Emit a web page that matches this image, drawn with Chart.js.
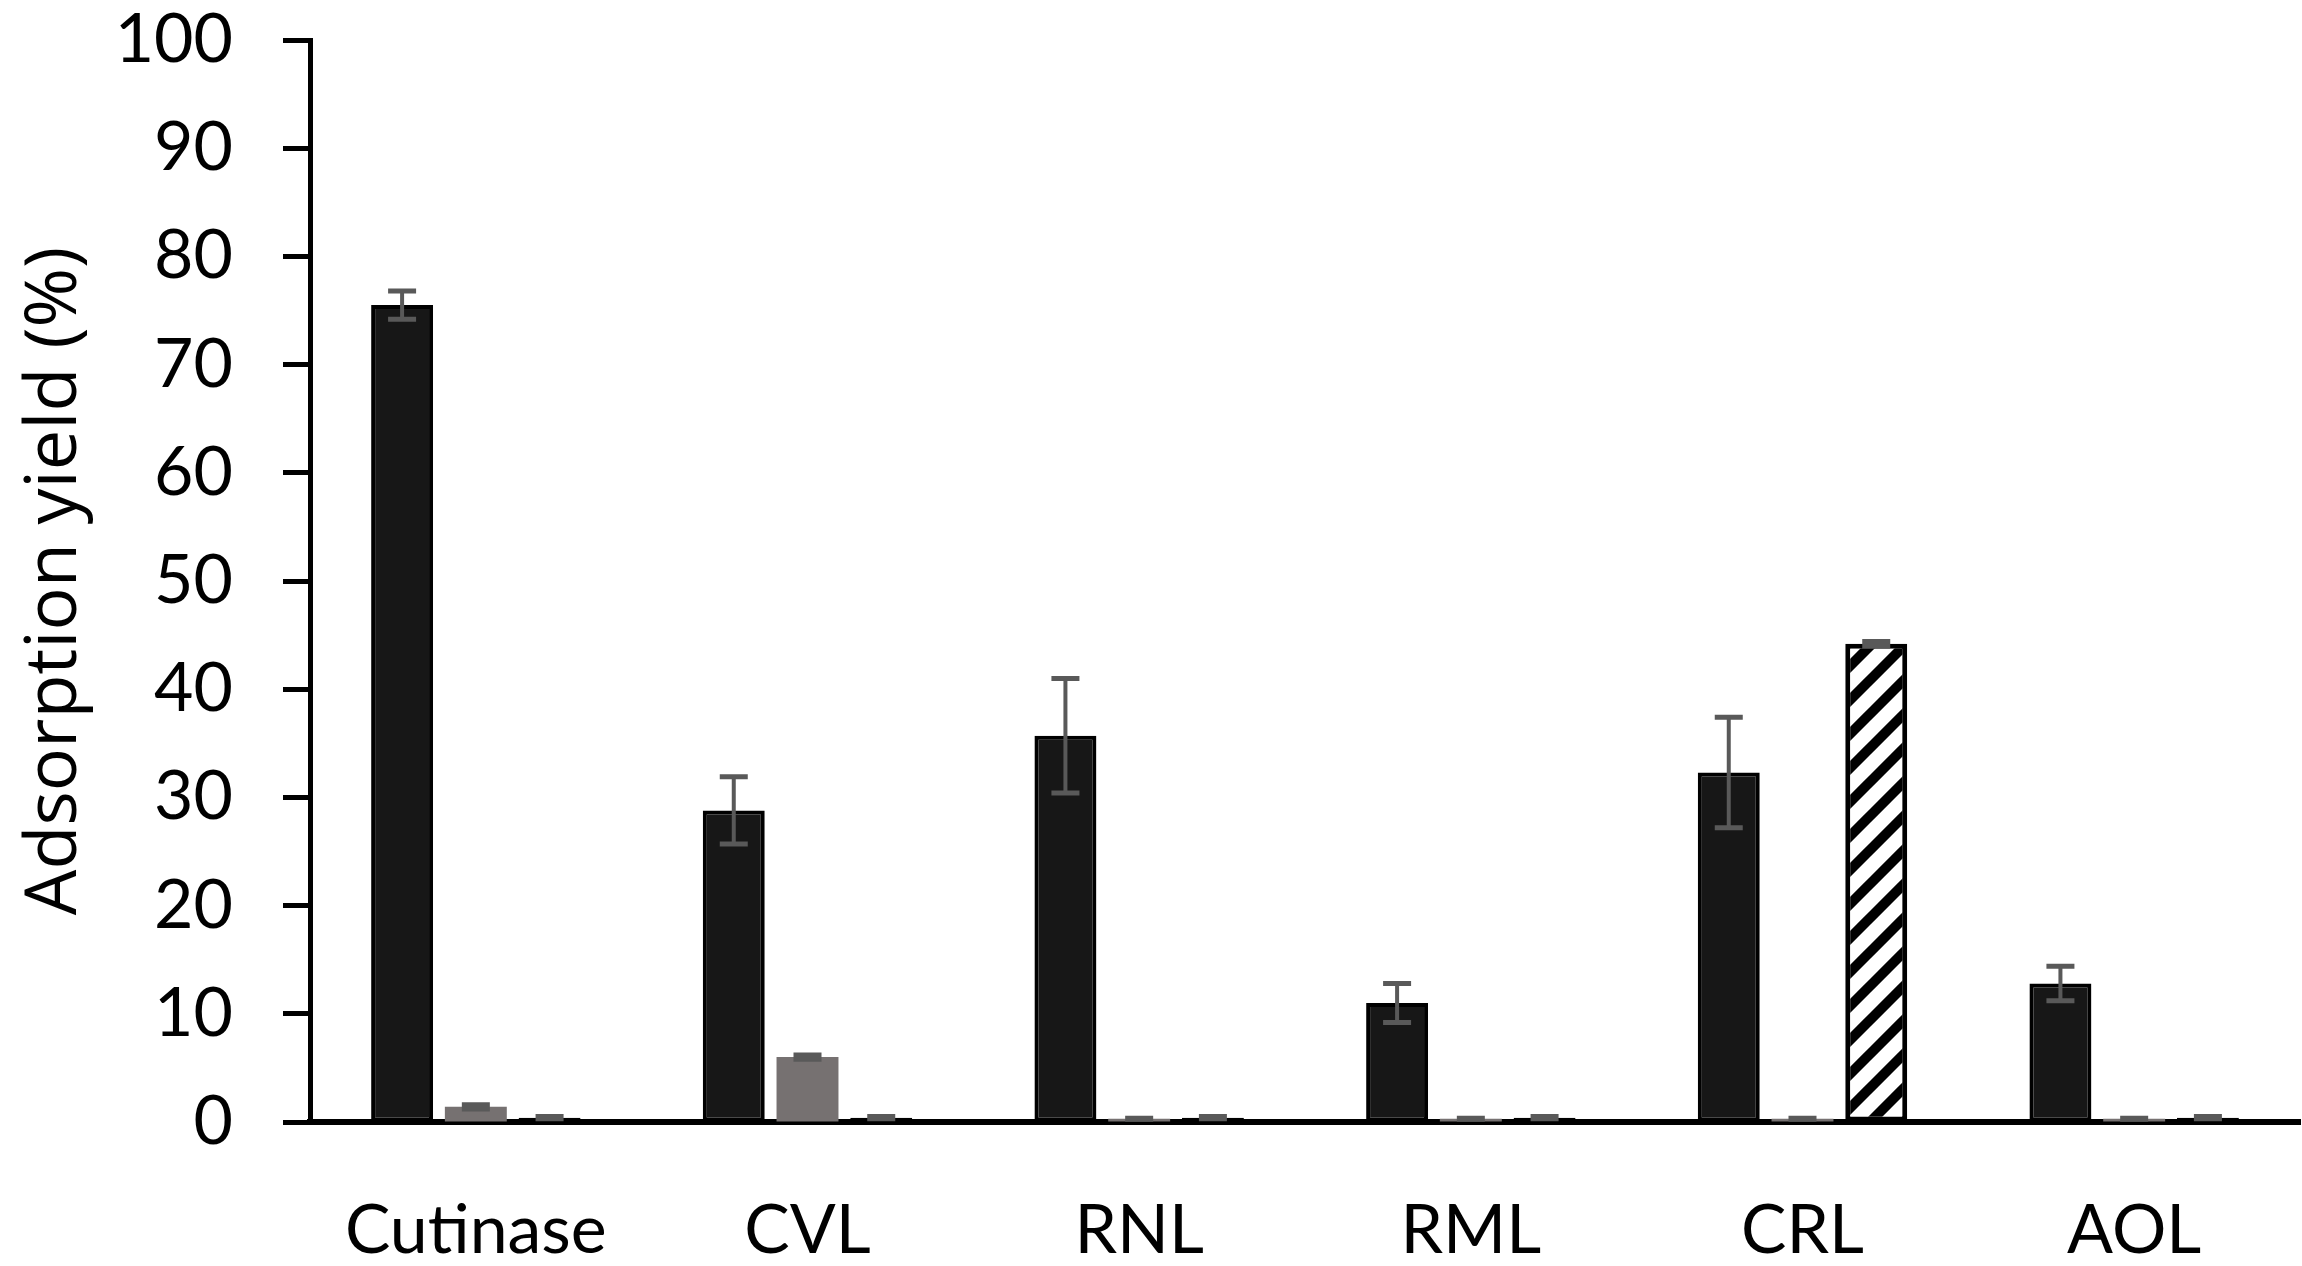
<!DOCTYPE html>
<html>
<head>
<meta charset="utf-8">
<script src="https://cdn.jsdelivr.net/npm/chart.js@4.4.1/dist/chart.umd.min.js"></script>
<style>
  html, body { margin: 0; padding: 0; background: #fff; }
  #wrap { width: 2302px; height: 1266px; }
</style>
</head>
<body>
<div id="wrap"><canvas id="yield"></canvas></div>
<script>
// data
const categories = ["Cutinase", "CVL", "RNL", "RML", "CRL", "AOL"];
const series1 = [75.5, 28.8, 35.7, 11.0, 32.3, 12.8];
const series1Err = [1.3, 3.1, 5.3, 1.8, 5.1, 1.6];
const series2 = [1.4, 6.0, 0.3, 0.3, 0.3, 0.3];
const series2Err = [0.2, 0.2, 0.05, 0.05, 0.05, 0.05];
const series3 = [0.4, 0.4, 0.4, 0.4, 44.2, 0.4];
const series3Err = [0.1, 0.1, 0.1, 0.1, 0.2, 0.1];
const yMin = 0, yMax = 100, yStep = 10;

// diagonal hatch for the third series
function hatch() {
  let s = 34;
  let c = document.createElement("canvas");
  c.width = s; c.height = s;
  let g = c.getContext("2d");
  g.fillStyle = "#fff";
  g.fillRect(0, 0, s, s);
  g.strokeStyle = "#000";
  g.lineWidth = 10;
  g.beginPath();
  g.moveTo(-s, s); g.lineTo(s, -s);
  g.moveTo(0, s); g.lineTo(s, 0);
  g.moveTo(0, 2 * s); g.lineTo(2 * s, 0);
  g.stroke();
  return g.createPattern(c, "repeat");
}

//Error bars
const errorBars = {
  id: "errorBars",
  afterDatasetsDraw(chart) {
    let ctx = chart.ctx;
    let y = chart.scales.y;
    ctx.save();
    ctx.strokeStyle = "#595959";
    chart.data.datasets.forEach((ds, i) => {
      let meta = chart.getDatasetMeta(i);
      meta.data.forEach((bar, j) => {
        let v = ds.data[j], e = ds.errors[j];
        let top = y.getPixelForValue(v + e);
        let bot = y.getPixelForValue(Math.max(v - e, 0));
        ctx.lineWidth = 4;
        ctx.beginPath();
        ctx.moveTo(bar.x, top);
        ctx.lineTo(bar.x, bot);
        ctx.stroke();
        ctx.lineWidth = 5;
        ctx.beginPath();
        ctx.moveTo(bar.x - 14, top);
        ctx.lineTo(bar.x + 14, top);
        ctx.moveTo(bar.x - 14, bot);
        ctx.lineTo(bar.x + 14, bot);
        ctx.stroke();
      });
    });
    ctx.restore();
  },
};

let ctxYield = document.getElementById("yield").getContext("2d");
let Yield = new Chart(ctxYield, {
  type: "bar",
  data: {
    labels: categories,
    datasets: [
      {
        label: "Series 1",
        data: series1,
        errors: series1Err,
        backgroundColor: "#171717",
        borderColor: "#000",
        borderWidth: 4,
        borderSkipped: false,
      },
      {
        label: "Series 2",
        data: series2,
        errors: series2Err,
        backgroundColor: "#767171",
        borderWidth: 0,
      },
      {
        label: "Series 3",
        data: series3,
        errors: series3Err,
        backgroundColor: hatch(),
        borderColor: "#000",
        borderWidth: 5,
        borderSkipped: false,
      },
    ],
  },
  options: {
    responsive: true,
    maintainAspectRatio: false,
    animation: false,
    devicePixelRatio: 1,
    layout: { padding: { top: 40, right: 2, left: 0, bottom: 0 } },
    plugins: {
      legend: { display: false },
      tooltip: { enabled: false },
    },
    datasets: {
      bar: { categoryPercentage: 0.667, barPercentage: 0.84 },
    },
    scales: {
      x: {
        grid: { drawOnChartArea: false, drawTicks: false },
        border: { display: true, color: "#000", width: 6 },
        ticks: {
          color: "#000",
          padding: 68,
          font: { family: "Lato", size: 68 },
        },
        afterFit(scale) {
          scale.height = 144;
          scale.paddingLeft = 0;
          scale.paddingRight = 0;
        },
      },
      y: {
        min: yMin,
        max: yMax,
        ticks: {
          stepSize: yStep,
          color: "#000",
          padding: 50,
          font: { family: "Lato", size: 68 },
        },
        grid: {
          drawOnChartArea: false,
          drawTicks: true,
          tickLength: 27,
          tickWidth: 5,
          tickColor: "#000",
        },
        border: { display: true, color: "#000", width: 5 },
        title: {
          display: true,
          text: "Adsorption yield (%)",
          color: "#000",
          padding: { top: 12, bottom: 0 },
          font: { family: "Open Sans", size: 72 },
        },
        afterFit(scale) {
          scale.width = 310;
          scale.paddingTop = 0;
          scale.paddingBottom = 0;
        },
      },
    },
  },
  plugins: [errorBars],
});
</script>
</body>
</html>
